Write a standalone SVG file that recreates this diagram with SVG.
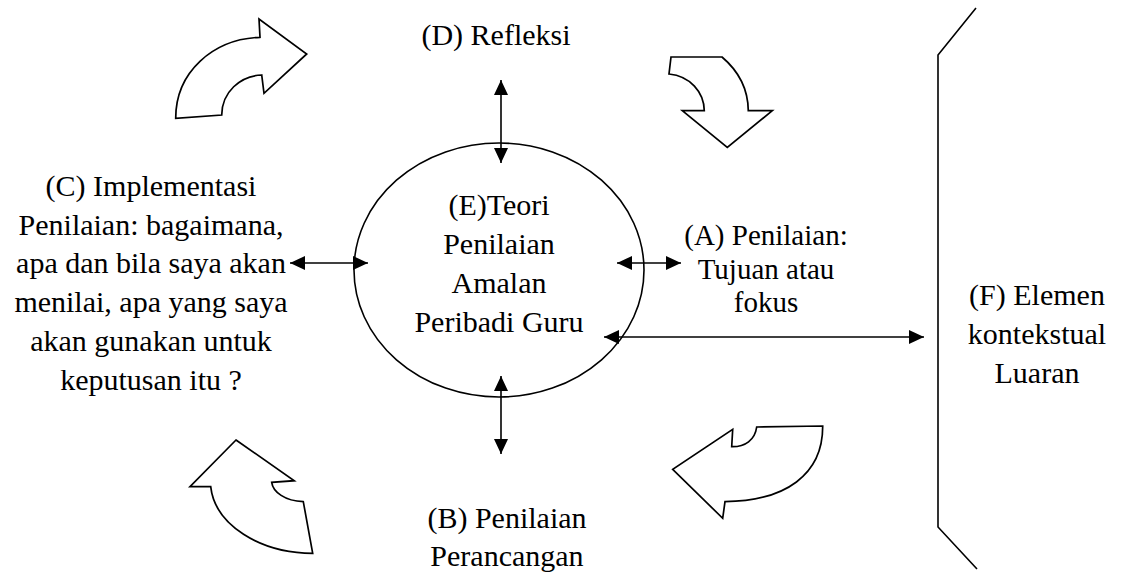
<svg xmlns="http://www.w3.org/2000/svg" width="1123" height="573" viewBox="0 0 1123 573" font-family="'Liberation Serif', 'Times New Roman', Times, serif">
<style>
text{font-family:"Liberation Serif","Times New Roman",Times,serif;font-size:30px;fill:#000;text-anchor:middle}
.ta{font-size:29px}
.ln{stroke:#000;stroke-width:1.6;fill:none}
.sh{stroke:#000;stroke-width:1.7;fill:#fff;stroke-linejoin:miter}
</style>
<defs>
<marker id="ah" markerUnits="userSpaceOnUse" markerWidth="15" markerHeight="14" viewBox="0 0 15 14" refX="15" refY="7" orient="auto-start-reverse">
<path d="M0,0 L15,7 L0,14 Z" fill="#000"/>
</marker>
</defs>
<rect width="1123" height="573" fill="#fff"/>

<g id="cycle-arrows">
<path id="arrow-top-left" class="sh" d="M175.7,118.3 C175.7,72 213,39 260,37.3 L259,19 L306.7,54 L264,93.3 L261.7,75 C240,76 222,92 221.7,115 Z"/>
<path id="arrow-top-right" class="sh" d="M671,57 L722,57 C735,68 748,85 748.3,110.7 L772.3,110.7 L727.3,147.3 L682.3,110.7 L704.3,110.7 C704,92 690,76 669,74 Z"/>
<path id="arrow-bottom-right" class="sh" d="M756.7,427 L822.7,426 C823,475 785,501 725,501.7 L722.7,518.3 L672.7,469.3 L732.7,429.3 L731.7,446.7 C745,447 755,440 756.7,427 Z"/>
<path id="arrow-bottom-left" class="sh" d="M236,440 L294.3,480.7 L271.7,482.3 C273,492 285,501 303.3,501.7 L312.7,553.3 C260,553 215,525 210.7,486.7 L190,486.7 Z"/>
</g>

<g id="node-E">
<ellipse cx="499" cy="270" rx="145" ry="127" class="ln"/>
<text x="499" y="215">(E)Teori</text>
<text x="499" y="254">Penilaian</text>
<text x="499" y="293">Amalan</text>
<text x="499" y="332">Peribadi Guru</text>
</g>

<g id="node-D">
<text x="496" y="45">(D) Refleksi</text>
</g>

<g id="node-B">
<text x="507" y="528">(B) Penilaian</text>
<text x="507" y="566">Perancangan</text>
</g>

<g id="node-C">
<text x="151" y="196">(C) Implementasi</text>
<text x="151" y="234.7">Penilaian: bagaimana,</text>
<text x="151" y="273.4">apa dan bila saya akan</text>
<text x="151" y="312">menilai, apa yang saya</text>
<text x="151" y="350.8">akan gunakan untuk</text>
<text x="151" y="389.5">keputusan itu ?</text>
</g>

<g id="node-A">
<text class="ta" x="766" y="245">(A) Penilaian:</text>
<text class="ta" x="766" y="278.5">Tujuan atau</text>
<text class="ta" x="766" y="312">fokus</text>
</g>

<g id="node-F">
<path class="ln" d="M976,8 L938,55 L938,527 L977,569"/>
<text x="1037" y="305">(F) Elemen</text>
<text x="1037" y="344">kontekstual</text>
<text x="1037" y="383">Luaran</text>
</g>

<g id="connectors">
<line class="ln" x1="501" y1="80" x2="501" y2="163" marker-start="url(#ah)" marker-end="url(#ah)"/>
<line class="ln" x1="501" y1="376" x2="501" y2="454" marker-start="url(#ah)" marker-end="url(#ah)"/>
<line class="ln" x1="290" y1="263" x2="368" y2="263" marker-start="url(#ah)" marker-end="url(#ah)"/>
<line class="ln" x1="617" y1="263" x2="681" y2="263" marker-start="url(#ah)" marker-end="url(#ah)"/>
<line class="ln" x1="604" y1="337" x2="924" y2="337" marker-start="url(#ah)" marker-end="url(#ah)"/>
</g>
</svg>
